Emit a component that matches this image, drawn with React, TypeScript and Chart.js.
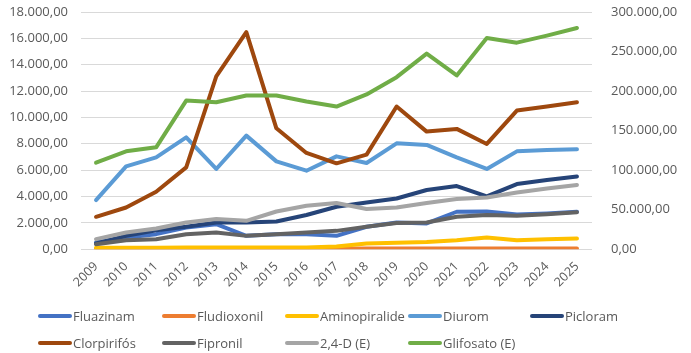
import React, { useEffect, useRef } from "react";
import { Chart, registerables } from "chart.js";

Chart.register(...registerables);

const years = ["2009","2010","2011","2012","2013","2014","2015","2016","2017","2018","2019","2020","2021","2022","2023","2024","2025"];

const fluazinam = [500, 880, 1140, 1640, 1900, 1010, 1140, 1140, 1010, 1700, 2020, 1950, 2840, 2860, 2630, 2710, 2840];
const fludioxonil = [30, 30, 30, 30, 30, 30, 30, 30, 40, 50, 50, 50, 50, 50, 50, 50, 50];
const aminopiralide = [100, 100, 100, 120, 120, 120, 120, 120, 200, 430, 480, 550, 680, 880, 680, 760, 810];
const diurom = [3727, 6283, 6968, 8489, 6086, 8619, 6664, 5956, 7044, 6542, 8033, 7911, 6968, 6086, 7424, 7531, 7577];
const picloram = [430, 1010, 1440, 1700, 2020, 2020, 2100, 2590, 3220, 3545, 3849, 4488, 4792, 4001, 4944, 5249, 5523];
const clorpirifos = [2457, 3165, 4359, 6207, 13107, 16477, 9174, 7303, 6512, 7173, 10825, 8923, 9128, 7987, 10520, 10825, 11152];
const fipronil = [380, 685, 760, 1140, 1260, 1010, 1140, 1260, 1390, 1700, 1980, 2020, 2460, 2590, 2530, 2660, 2810];
const d24 = [12680, 21050, 26120, 33730, 38040, 35880, 47680, 54900, 58330, 50720, 52750, 58330, 63400, 65430, 71770, 76840, 81150];
const glifosato = [109400, 123800, 128800, 188000, 185900, 194400, 194400, 186800, 180400, 195700, 217600, 247300, 219700, 267000, 261200, 270100, 279700];

const seriesNames = ["Fluazinam", "Fludioxonil", "Aminopiralide", "Diurom", "Picloram", "Clorpirifós", "Fipronil", "2,4-D (E)", "Glifosato (E)"];
const seriesData = [fluazinam, fludioxonil, aminopiralide, diurom, picloram, clorpirifos, fipronil, d24, glifosato];
const seriesAxis = ["y", "y", "y", "y", "y", "y", "y", "y1", "y1"];
const seriesColors = ["#4472C4", "#ED7D31", "#FFC000", "#5B9BD5", "#264478", "#9E480E", "#636363", "#A5A5A5", "#70AD47"];

const FONT = "'Open Sans', Lato, sans-serif";
const TEXT = "#595959";

function fmt(v: number): string {
  const s = Math.round(v).toString();
  const withDots = s.replace(/\B(?=(\d{3})+(?!\d))/g, ".");
  return withDots + ",00";
}

export default function App() {
  const ref = useRef<HTMLCanvasElement | null>(null);

  useEffect(() => {
    if (!ref.current) return;
    const chart = new Chart(ref.current, {
      type: "line",
      data: {
        labels: years,
        datasets: seriesNames.map((name, i) => ({
          label: name,
          data: seriesData[i],
          yAxisID: seriesAxis[i],
          borderColor: seriesColors[i],
          backgroundColor: seriesColors[i],
          borderWidth: 4,
          pointRadius: 0,
          tension: 0,
          borderJoinStyle: "round" as const,
          borderCapStyle: "round" as const,
          order: -i,
        })),
      },
      options: {
        responsive: false,
        animation: false,
        layout: { padding: { top: 12, bottom: 61, left: 0, right: 0 } },
        plugins: { legend: { display: false }, tooltip: { enabled: false } },
        scales: {
          x: {
            offset: true,
            grid: { display: false },
            border: { display: false },
            ticks: {
              color: TEXT,
              font: { family: FONT, size: 12.5 },
              minRotation: 45,
              maxRotation: 45,
              autoSkip: false,
              padding: 2,
            },
            afterFit: (s: any) => { s.paddingLeft = 0; s.paddingRight = 0; },
          },
          y: {
            position: "left",
            min: 0,
            max: 18000,
            grid: { color: "#D9D9D9", lineWidth: 1, drawTicks: false },
            border: { display: false },
            ticks: {
              stepSize: 2000,
              color: TEXT,
              font: { family: FONT, size: 13 },
              padding: 13,
              callback: (v: any) => fmt(Number(v)),
            },
            afterFit: (s: any) => { s.width = 81; s.paddingTop = 0; s.paddingBottom = 0; },
          },
          y1: {
            position: "right",
            min: 0,
            max: 300000,
            grid: { drawOnChartArea: false, drawTicks: false },
            border: { display: false },
            ticks: {
              stepSize: 50000,
              color: TEXT,
              font: { family: FONT, size: 13 },
              padding: 19,
              callback: (v: any) => fmt(Number(v)),
            },
            afterFit: (s: any) => { s.width = 99; s.paddingTop = 0; s.paddingBottom = 0; },
          },
        },
      },
    });
    return () => chart.destroy();
  }, []);

  const colX = [38, 162, 285, 408, 530];
  const rowY = [316, 343];

  return (
    <div style={{ position: "fixed", left: 0, top: 0, width: 691, height: 353, background: "#fff" }}>
      <canvas ref={ref} width={691} height={353} style={{ display: "block" }} />
      {seriesNames.map((name, i) => {
        const col = i % 5;
        const row = Math.floor(i / 5);
        return (
          <div
            key={name}
            style={{
              position: "absolute",
              left: colX[col],
              top: rowY[row] - 10,
              height: 20,
              display: "flex",
              alignItems: "center",
              fontFamily: FONT,
              fontSize: 13,
              color: TEXT,
              whiteSpace: "nowrap",
            }}
          >
            <span style={{ display: "inline-block", width: 34, height: 4, borderRadius: 2, background: seriesColors[i], marginRight: 1 }} />
            <span>{name}</span>
          </div>
        );
      })}
    </div>
  );
}
